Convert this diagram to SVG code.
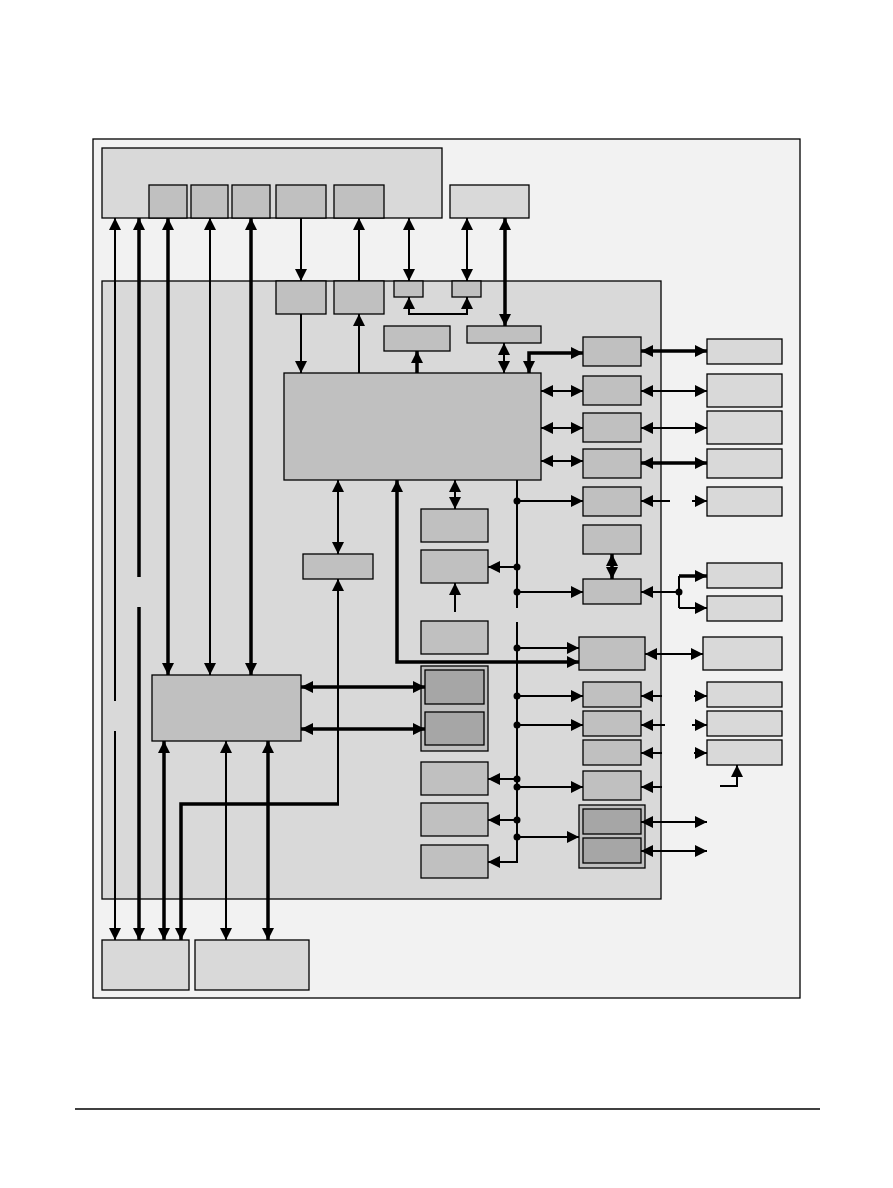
<svg xmlns="http://www.w3.org/2000/svg" width="893" height="1188" viewBox="0 0 893 1188">
<style>
.frame{fill:#f2f2f2;stroke:#000;stroke-width:1.3}
.lt{fill:#d9d9d9;stroke:#000;stroke-width:1.3}
.md{fill:#c0c0c0;stroke:#000;stroke-width:1.3}
.dk{fill:#a6a6a6;stroke:#000;stroke-width:1.3}
.c{fill:none;stroke:#000;stroke-width:2}
.t{fill:none;stroke:#000;stroke-width:3.5}
.e{marker-end:url(#ah)}
.s{marker-start:url(#ah)}
.b{marker-start:url(#ah);marker-end:url(#ah)}
.dot{fill:#000}
</style>
<defs>
<marker id="ah" markerUnits="userSpaceOnUse" markerWidth="12" markerHeight="12" refX="10" refY="5" orient="auto-start-reverse" viewBox="0 0 10 10">
<path d="M0,0 L10,5 L0,10 z" fill="#000"/>
</marker>
</defs>
<rect width="893" height="1188" fill="#fff"/>
<rect class="frame" x="93" y="139" width="707" height="859"/>
<line x1="75" y1="1109" x2="820" y2="1109" stroke="#000" stroke-width="1.5"/>

<g id="top-box"><rect class="lt" x="102" y="148" width="340" height="70"/></g>
<g id="t1"><rect class="md" x="149" y="185" width="38" height="33"/></g>
<g id="t2"><rect class="md" x="191" y="185" width="37" height="33"/></g>
<g id="t3"><rect class="md" x="232" y="185" width="38" height="33"/></g>
<g id="t4"><rect class="md" x="276" y="185" width="50" height="33"/></g>
<g id="t5"><rect class="md" x="334" y="185" width="50" height="33"/></g>
<g id="top-right"><rect class="lt" x="450" y="185" width="79" height="33"/></g>

<g id="main"><rect class="lt" x="102" y="281" width="559" height="618"/></g>
<g id="m1"><rect class="md" x="276" y="281" width="50" height="33"/></g>
<g id="m2"><rect class="md" x="334" y="281" width="50" height="33"/></g>
<g id="s1"><rect class="md" x="394" y="281" width="29" height="16"/></g>
<g id="s2"><rect class="md" x="452" y="281" width="29" height="16"/></g>
<g id="m3"><rect class="md" x="384" y="326" width="66" height="25"/></g>
<g id="m4"><rect class="md" x="467" y="326" width="74" height="17"/></g>
<g id="cpu"><rect class="md" x="284" y="373" width="257" height="107"/></g>

<g id="r1"><rect class="md" x="583" y="337" width="58" height="29"/></g>
<g id="r2"><rect class="md" x="583" y="376" width="58" height="29"/></g>
<g id="r3"><rect class="md" x="583" y="413" width="58" height="29"/></g>
<g id="r4"><rect class="md" x="583" y="449" width="58" height="29"/></g>
<g id="r5"><rect class="md" x="583" y="487" width="58" height="29"/></g>
<g id="r6"><rect class="md" x="583" y="525" width="58" height="29"/></g>
<g id="r7"><rect class="md" x="583" y="579" width="58" height="25"/></g>
<g id="r8"><rect class="md" x="579" y="637" width="66" height="33"/></g>
<g id="r9"><rect class="md" x="583" y="682" width="58" height="25"/></g>
<g id="r10"><rect class="md" x="583" y="711" width="58" height="25"/></g>
<g id="r11"><rect class="md" x="583" y="740" width="58" height="25"/></g>
<g id="r12"><rect class="md" x="583" y="771" width="58" height="29"/></g>
<g id="r13"><rect class="md" x="579" y="805" width="66" height="63"/><rect class="dk" x="583" y="809" width="58" height="25"/><rect class="dk" x="583" y="838" width="58" height="25"/></g>

<g id="f1"><rect class="lt" x="707" y="339" width="75" height="25"/></g>
<g id="f2"><rect class="lt" x="707" y="374" width="75" height="33"/></g>
<g id="f3"><rect class="lt" x="707" y="411" width="75" height="33"/></g>
<g id="f4"><rect class="lt" x="707" y="449" width="75" height="29"/></g>
<g id="f5"><rect class="lt" x="707" y="487" width="75" height="29"/></g>
<g id="f6"><rect class="lt" x="707" y="563" width="75" height="25"/></g>
<g id="f7"><rect class="lt" x="707" y="596" width="75" height="25"/></g>
<g id="f8"><rect class="lt" x="703" y="637" width="79" height="33"/></g>
<g id="f9"><rect class="lt" x="707" y="682" width="75" height="25"/></g>
<g id="f10"><rect class="lt" x="707" y="711" width="75" height="25"/></g>
<g id="f11"><rect class="lt" x="707" y="740" width="75" height="25"/></g>

<g id="c1"><rect class="md" x="421" y="509" width="67" height="33"/></g>
<g id="c2"><rect class="md" x="421" y="550" width="67" height="33"/></g>
<g id="c3"><rect class="md" x="421" y="621" width="67" height="33"/></g>
<g id="c4"><rect class="md" x="421" y="666" width="67" height="85"/><rect class="dk" x="425" y="670" width="59" height="34"/><rect class="dk" x="425" y="712" width="59" height="33"/></g>
<g id="c5"><rect class="md" x="421" y="762" width="67" height="33"/></g>
<g id="c6"><rect class="md" x="421" y="803" width="67" height="33"/></g>
<g id="c7"><rect class="md" x="421" y="845" width="67" height="33"/></g>
<g id="n1"><rect class="md" x="303" y="554" width="70" height="25"/></g>
<g id="left-big"><rect class="md" x="152" y="675" width="149" height="66"/></g>

<g id="b1"><rect class="lt" x="102" y="940" width="87" height="50"/></g>
<g id="b2"><rect class="lt" x="195" y="940" width="114" height="50"/></g>

<g id="connectors">
<path class="c s" d="M115,218 V701"/>
<path class="c e" d="M115,731 V940"/>
<path class="t s" d="M139,218 V577"/>
<path class="t e" d="M139,607 V940"/>
<path class="t b" d="M168,218 V675"/>
<path class="c b" d="M210,218 V675"/>
<path class="t b" d="M251,218 V675"/>
<path class="c e" d="M301,218 V281"/>
<path class="c e" d="M359,281 V218"/>
<path class="c b" d="M409,218 V281"/>
<path class="c b" d="M467,218 V281"/>
<path class="t b" d="M505,218 V326"/>
<path class="c b" d="M409,297 V314 H467 V297"/>
<path class="c e" d="M301,314 V373"/>
<path class="c e" d="M359,373 V314"/>
<path class="t e" d="M417,373 V351"/>
<path class="c b" d="M504,343 V373"/>
<path class="t b" d="M583,353 H529 V373"/>
<path class="c b" d="M541,391 H583"/>
<path class="c b" d="M541,428 H583"/>
<path class="c b" d="M541,461 H583"/>
<path class="t b" d="M641,351 H707"/>
<path class="c b" d="M641,391 H707"/>
<path class="c b" d="M641,428 H707"/>
<path class="t b" d="M641,463 H707"/>
<path class="c e" d="M670,501 H641"/>
<path class="c e" d="M692,501 H707"/>
<path class="c" d="M517,480 V608"/>
<path class="c e" d="M517,622 V862 H488"/>
<path class="c e" d="M517,501 H583"/>
<path class="c e" d="M517,567 H488"/>
<path class="c e" d="M517,592 H583"/>
<path class="c e" d="M517,648 H579"/>
<path class="c e" d="M517,696 H583"/>
<path class="c e" d="M517,725 H583"/>
<path class="c e" d="M517,779 H488"/>
<path class="c e" d="M517,787 H583"/>
<path class="c e" d="M517,820 H488"/>
<path class="c e" d="M517,837 H579"/>
<path class="t b" d="M579,662 H397 V480"/>
<path class="c b" d="M455,480 V509"/>
<path class="c e" d="M455,612 V583"/>
<path class="c b" d="M338,480 V554"/>
<path class="c s" d="M338,579 V804"/>
<path class="t e" d="M339,804 H181 V940"/>
<path class="t b" d="M301,687 H425"/>
<path class="t b" d="M301,729 H425"/>
<path class="t b" d="M612,554 V579"/>
<path class="c s" d="M641,592 H679"/>
<path class="c" d="M679,576 V608"/>
<path class="t e" d="M679,576 H707"/>
<path class="c e" d="M679,608 H707"/>
<path class="c b" d="M645,654 H703"/>
<path class="c e" d="M662,696 H641"/>
<path class="c e" d="M694,696 H707"/>
<path class="c e" d="M665,725 H641"/>
<path class="c e" d="M692,725 H707"/>
<path class="c e" d="M662,753 H641"/>
<path class="c e" d="M694,753 H707"/>
<path class="c e" d="M662,787 H641"/>
<path class="c e" d="M720,786 H737 V765"/>
<path class="c b" d="M641,822 H707"/>
<path class="c b" d="M641,851 H707"/>
<path class="t b" d="M164,741 V940"/>
<path class="c b" d="M226,741 V940"/>
<path class="t b" d="M268,741 V940"/>
<circle class="dot" cx="517" cy="501" r="3.5"/>
<circle class="dot" cx="517" cy="567" r="3.5"/>
<circle class="dot" cx="517" cy="592" r="3.5"/>
<circle class="dot" cx="517" cy="648" r="3.5"/>
<circle class="dot" cx="517" cy="696" r="3.5"/>
<circle class="dot" cx="517" cy="725" r="3.5"/>
<circle class="dot" cx="517" cy="779" r="3.5"/>
<circle class="dot" cx="517" cy="787" r="3.5"/>
<circle class="dot" cx="517" cy="820" r="3.5"/>
<circle class="dot" cx="517" cy="837" r="3.5"/>
<circle class="dot" cx="679" cy="592" r="3.5"/>
</g>
</svg>
